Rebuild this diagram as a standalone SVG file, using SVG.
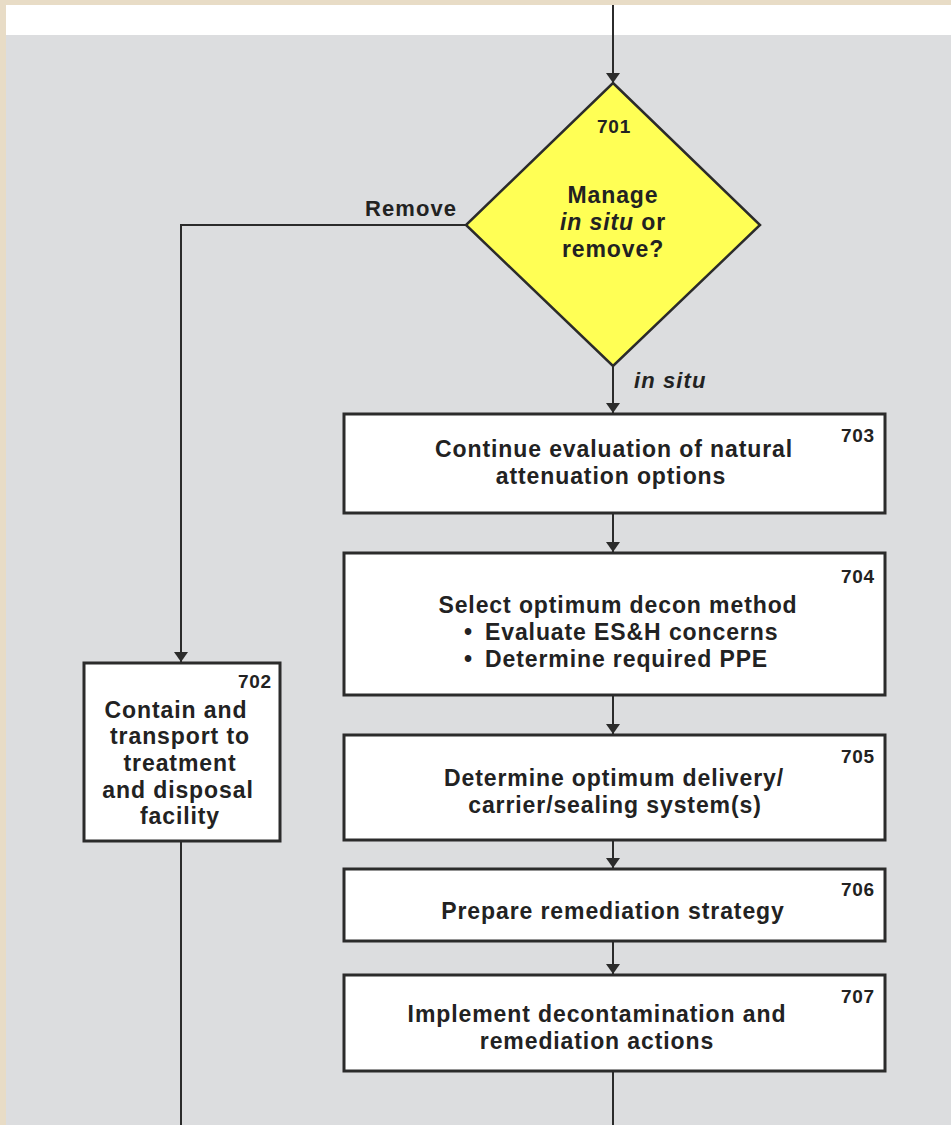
<svg xmlns="http://www.w3.org/2000/svg" width="951" height="1125" viewBox="0 0 951 1125">
  <style>
    .box { fill: #ffffff; stroke: #2b2b2b; stroke-width: 3; }
    .dec { fill: #ffff55; stroke: #2b2b2b; stroke-width: 2.5; }
    .wire { fill: none; stroke: #2b2b2b; stroke-width: 2; }
    text { font-family: "Liberation Sans", Arial, sans-serif; font-weight: bold; fill: #222222; }
    .t { font-size: 23px; letter-spacing: 0.9px; text-anchor: middle; }
    .b { font-size: 23px; letter-spacing: 0.9px; }
    .n { font-size: 19px; letter-spacing: 0.8px; text-anchor: end; }
    .nc { font-size: 19px; letter-spacing: 0.8px; text-anchor: middle; }
    .lbl { font-size: 22px; letter-spacing: 1.1px; }
  </style>
  <defs>
    <marker id="arr" viewBox="0 0 10 14" refX="10" refY="7" markerWidth="10" markerHeight="14" markerUnits="userSpaceOnUse" orient="auto">
      <path d="M0,0 L10,7 L0,14 Z" fill="#2b2b2b"/>
    </marker>
  </defs>

  <!-- page backdrop -->
  <rect x="0" y="0" width="951" height="1125" fill="#e8dcc6"/>
  <rect x="6" y="5" width="945" height="30" fill="#ffffff"/>
  <rect x="6" y="35" width="945" height="1090" fill="#dcdddf"/>

  <!-- connectors -->
  <g id="connectors">
    <line class="wire" x1="613" y1="5" x2="613" y2="83" marker-end="url(#arr)"/>
    <polyline class="wire" points="466,225 181,225 181,662" marker-end="url(#arr)"/>
    <line class="wire" x1="613" y1="366" x2="613" y2="413" marker-end="url(#arr)"/>
    <line class="wire" x1="613" y1="514" x2="613" y2="552" marker-end="url(#arr)"/>
    <line class="wire" x1="613" y1="696" x2="613" y2="734" marker-end="url(#arr)"/>
    <line class="wire" x1="613" y1="841" x2="613" y2="868" marker-end="url(#arr)"/>
    <line class="wire" x1="613" y1="942" x2="613" y2="974" marker-end="url(#arr)"/>
    <line class="wire" x1="613" y1="1072" x2="613" y2="1125"/>
    <line class="wire" x1="181" y1="842" x2="181" y2="1125"/>
    <text class="lbl" x="411" y="216" text-anchor="middle">Remove</text>
    <text class="lbl" x="634" y="388" font-style="italic">in situ</text>
  </g>

  <!-- decision 701 -->
  <g id="n701">
    <polygon class="dec" points="613,83 760,225 613,366 466,225"/>
    <text class="nc" x="614" y="133">701</text>
    <text class="t" x="613" y="203">Manage</text>
    <text class="t" x="613" y="230"><tspan font-style="italic">in situ</tspan> or</text>
    <text class="t" x="613" y="257">remove?</text>
  </g>

  <!-- 702 -->
  <g id="n702">
    <rect class="box" x="84" y="663" width="196" height="178"/>
    <text class="n" x="272" y="688">702</text>
    <text class="t" x="176" y="718">Contain and</text>
    <text class="t" x="180" y="744">transport to</text>
    <text class="t" x="180" y="771">treatment</text>
    <text class="t" x="178" y="798">and disposal</text>
    <text class="t" x="180" y="824">facility</text>
  </g>

  <!-- 703 -->
  <g id="n703">
    <rect class="box" x="344" y="414" width="541" height="99"/>
    <text class="n" x="875" y="442">703</text>
    <text class="t" x="614" y="457">Continue evaluation of natural</text>
    <text class="t" x="611" y="484">attenuation options</text>
  </g>

  <!-- 704 -->
  <g id="n704">
    <rect class="box" x="344" y="553" width="541" height="142"/>
    <text class="n" x="875" y="583">704</text>
    <text class="t" x="618" y="613">Select optimum decon method</text>
    <text class="b" y="640"><tspan x="464">•</tspan><tspan x="485">Evaluate ES&amp;H concerns</tspan></text>
    <text class="b" y="667"><tspan x="464">•</tspan><tspan x="485">Determine required PPE</tspan></text>
  </g>

  <!-- 705 -->
  <g id="n705">
    <rect class="box" x="344" y="735" width="541" height="105"/>
    <text class="n" x="875" y="763">705</text>
    <text class="t" x="614" y="786">Determine optimum delivery/</text>
    <text class="t" x="615" y="813">carrier/sealing system(s)</text>
  </g>

  <!-- 706 -->
  <g id="n706">
    <rect class="box" x="344" y="869" width="541" height="72"/>
    <text class="n" x="875" y="896">706</text>
    <text class="t" x="613" y="919">Prepare remediation strategy</text>
  </g>

  <!-- 707 -->
  <g id="n707">
    <rect class="box" x="344" y="975" width="541" height="96"/>
    <text class="n" x="875" y="1003">707</text>
    <text class="t" x="597" y="1022">Implement decontamination and</text>
    <text class="t" x="597" y="1049">remediation actions</text>
  </g>
</svg>
